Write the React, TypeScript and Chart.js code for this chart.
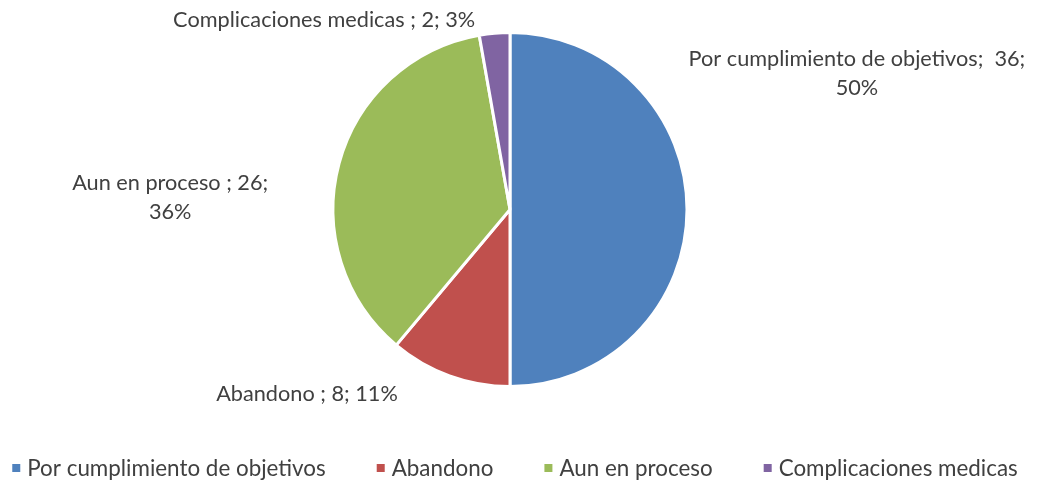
import React, { useEffect, useRef } from "react";
import { Chart, registerables } from "chart.js";

Chart.register(...registerables);

const categories = [
  "Por cumplimiento de objetivos",
  "Abandono",
  "Aun en proceso",
  "Complicaciones medicas",
];
const values = [36, 8, 26, 2];
const colors = ["#4F81BD", "#C0504D", "#9BBB59", "#8064A2"];
const labelSeparators = [";  ", " ; ", " ; ", " ; "];
const labelWrap = [true, false, true, false];

const FONT = "Lato, 'Open Sans', sans-serif";
const TEXT_COLOR = "#404040";

// label block centre offsets from pie centre, in units of radius
const labelOffsets = [
  { dx: 1.96, dy: -0.77 },
  { dx: -1.147, dy: 1.045 },
  { dx: -1.92, dy: -0.065 },
  { dx: -1.05, dy: -1.068 },
];

const labelsPlugin = {
  id: "sliceLabels",
  afterDraw(chart: any) {
    const ctx = chart.ctx;
    const meta = chart.getDatasetMeta(0);
    const data = chart.data.datasets[0].data as number[];
    const total = data.reduce((a, b) => a + b, 0);
    const arc0 = meta.data[0];
    if (!arc0) return;
    const cx = arc0.x;
    const cy = arc0.y;
    const r = arc0.outerRadius;
    ctx.save();
    ctx.font = `21.7px ${FONT}`;
    ctx.fillStyle = TEXT_COLOR;
    ctx.textAlign = "center";
    ctx.textBaseline = "middle";
    const lh = 29;
    data.forEach((v, i) => {
      const pct = Math.round((v / total) * 100);
      const first = `${chart.data.labels[i]}${labelSeparators[i]}${v};`;
      const second = `${pct}%`;
      const lines = labelWrap[i] ? [first, second] : [`${first} ${second}`];
      const bx = cx + labelOffsets[i].dx * r;
      const by = cy + labelOffsets[i].dy * r;
      const startY = by - ((lines.length - 1) * lh) / 2;
      lines.forEach((ln, k) => ctx.fillText(ln, bx, startY + k * lh));
    });

    // legend
    ctx.font = `22.4px ${FONT}`;
    ctx.textAlign = "left";
    const box = 8;
    const boxGap = 7;
    const itemGap = 51;
    const widths = (chart.data.labels as string[]).map(
      (l) => box + boxGap + ctx.measureText(l).width
    );
    const totalW = widths.reduce((a, b) => a + b, 0) + itemGap * (widths.length - 1);
    let x = 515 - totalW / 2;
    const ly = 468;
    (chart.data.labels as string[]).forEach((l, i) => {
      ctx.fillStyle = colors[i];
      ctx.fillRect(x, ly - box / 2, box, box);
      ctx.fillStyle = TEXT_COLOR;
      ctx.fillText(l, x + box + boxGap, ly + 1);
      x += widths[i] + itemGap;
    });
    ctx.restore();
  },
};

export default function App() {
  const ref = useRef<HTMLCanvasElement | null>(null);
  useEffect(() => {
    if (!ref.current) return;
    const chart = new Chart(ref.current, {
      type: "pie",
      data: {
        labels: categories,
        datasets: [
          {
            data: values,
            backgroundColor: colors,
            borderColor: "#FFFFFF",
            borderWidth: 3,
          },
        ],
      },
      options: {
        responsive: false,
        animation: false,
        layout: { padding: { top: 31, bottom: 95, left: 0, right: 17 } },
        plugins: {
          legend: { display: false },
          tooltip: { enabled: false },
        },
      },
      plugins: [labelsPlugin],
    });
    return () => chart.destroy();
  }, []);
  return (
    <div style={{ position: "absolute", left: 0, top: 0, width: 1037, height: 483, background: "#fff" }}>
      <canvas ref={ref} width={1037} height={483} />
    </div>
  );
}
